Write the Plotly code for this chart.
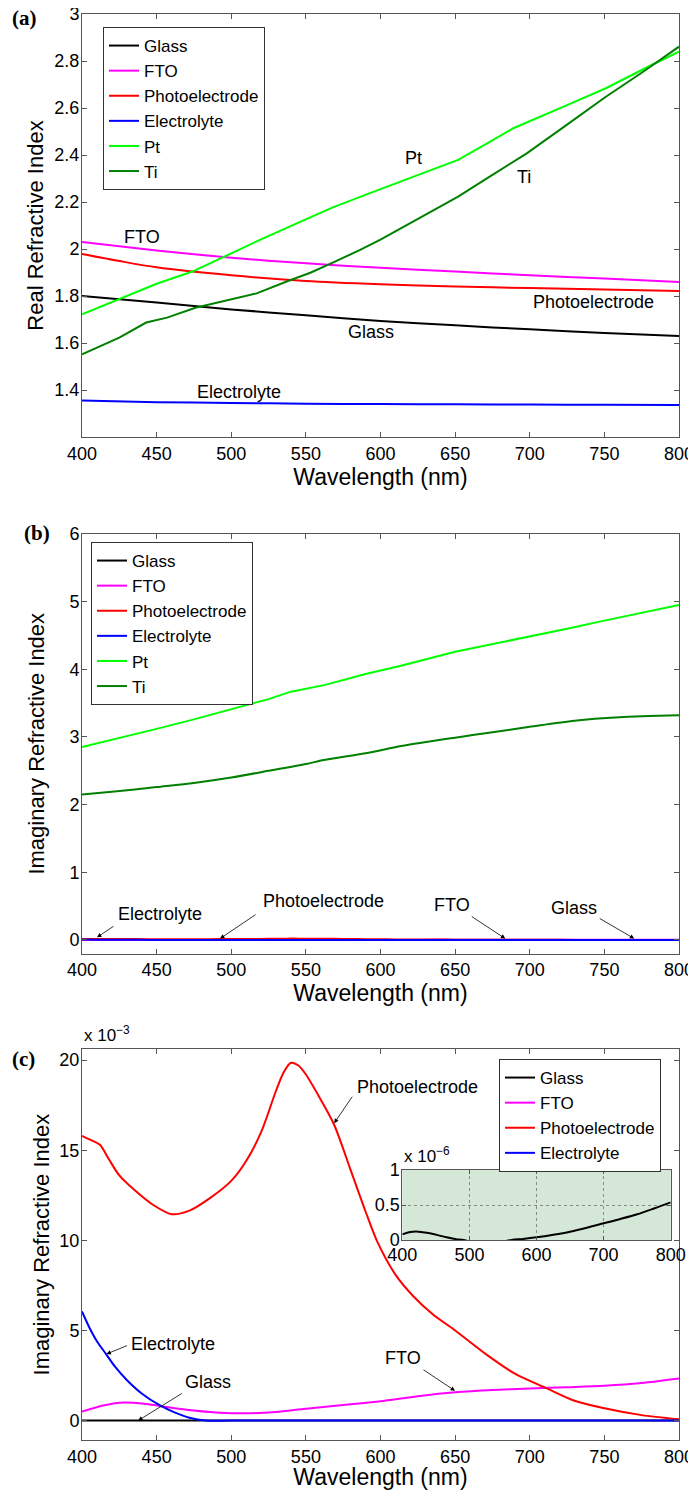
import plotly.graph_objects as go

# ---------------- data ----------------
# (a) real refractive index n(λ)
wl_glass_n = [400, 450, 500, 550, 600, 650, 700, 750, 800]
n_glass = [1.800, 1.772, 1.743, 1.718, 1.694, 1.675, 1.658, 1.643, 1.630]
wl_fto_n = [400, 450, 500, 550, 600, 650, 700, 750, 800]
n_fto = [2.030, 1.994, 1.963, 1.939, 1.920, 1.904, 1.888, 1.874, 1.860]
wl_pe_n = [400, 425, 450, 500, 550, 600, 650, 700, 750, 800]
n_pe = [1.979, 1.949, 1.922, 1.888, 1.864, 1.850, 1.840, 1.834, 1.828, 1.821]
wl_el_n = [400, 450, 500, 550, 600, 650, 700, 750, 800]
n_el = [1.355, 1.348, 1.345, 1.342, 1.340, 1.339, 1.338, 1.337, 1.336]
wl_pt_n = [400, 419, 440, 450, 474, 495, 520, 545, 568, 600, 625, 652, 670, 689, 725, 751, 782, 800]
n_pt = [1.722, 1.772, 1.828, 1.852, 1.904, 1.967, 2.041, 2.112, 2.177, 2.255, 2.314, 2.379,
        2.444, 2.514, 2.612, 2.684, 2.784, 2.840]
wl_ti_n = [400, 425, 443, 457, 476, 500, 517, 538, 553, 568, 586, 600, 625, 652, 675, 698, 725, 751, 775, 800]
n_ti = [1.552, 1.623, 1.687, 1.708, 1.750, 1.786, 1.811, 1.864, 1.899, 1.942, 1.995, 2.040,
        2.128, 2.223, 2.315, 2.407, 2.529, 2.648, 2.750, 2.861]

# (b)/(c) imaginary refractive index k(λ)
wl_pt_k = [400, 425, 450, 475, 500, 525, 540, 563, 590, 613, 650, 675, 700, 725, 750, 775, 800]
k_pt = [2.85, 2.98, 3.12, 3.26, 3.41, 3.56, 3.67, 3.77, 3.93, 4.05, 4.26, 4.37, 4.48, 4.60, 4.72, 4.83, 4.95]
wl_ti_k = [400, 420, 450, 475, 500, 525, 550, 562, 590, 615, 650, 675, 700, 730, 760, 800]
k_ti = [2.15, 2.19, 2.26, 2.32, 2.40, 2.50, 2.60, 2.66, 2.76, 2.87, 2.99, 3.07, 3.15, 3.24, 3.29, 3.32]

wl_glass_k = [400, 410, 421, 430, 441, 453, 466, 480, 491, 505, 527, 545, 563, 580, 600, 625,
              650, 675, 700, 725, 750, 775, 800]
k_glass = [0.08e-6, 0.11e-6, 0.12e-6, 0.11e-6, 0.095e-6, 0.07e-6, 0.038e-6, 0.012e-6, 0.0,
           -0.03e-6, -0.045e-6, -0.03e-6, 0.0, 0.015e-6, 0.038e-6, 0.075e-6, 0.119e-6,
           0.175e-6, 0.238e-6, 0.300e-6, 0.367e-6, 0.450e-6, 0.538e-6]
wl_fto_k = [400, 415, 428, 440, 452, 470, 490, 510, 530, 550, 580, 600, 625, 650, 675, 700, 725, 750, 775, 800]
k_fto = [0.50e-3, 0.85e-3, 1.00e-3, 0.95e-3, 0.81e-3, 0.60e-3, 0.45e-3, 0.40e-3, 0.48e-3, 0.66e-3,
         0.90e-3, 1.07e-3, 1.35e-3, 1.57e-3, 1.70e-3, 1.78e-3, 1.85e-3, 1.93e-3, 2.08e-3, 2.33e-3]
wl_pe_k = [400, 405, 412, 418, 425, 435, 447, 460, 472, 485, 500, 510, 520, 530, 535, 540, 545, 550,
           560, 569, 580, 590, 598, 610, 622, 635, 650, 672, 690, 711, 730, 750, 775, 800]
k_pe = [15.8e-3, 15.6e-3, 15.3e-3, 14.5e-3, 13.6e-3, 12.8e-3, 12.0e-3, 11.45e-3, 11.65e-3, 12.3e-3,
        13.3e-3, 14.4e-3, 16.0e-3, 18.3e-3, 19.3e-3, 19.85e-3, 19.7e-3, 19.2e-3, 17.8e-3, 16.4e-3,
        13.9e-3, 11.6e-3, 9.9e-3, 8.1e-3, 6.9e-3, 5.9e-3, 5.0e-3, 3.6e-3, 2.6e-3, 1.8e-3, 1.1e-3,
        0.68e-3, 0.30e-3, 0.07e-3]
wl_el_k = [400, 405, 410, 416, 422, 430, 440, 452, 462, 472, 483, 500, 600, 700, 800]
k_el = [6.05e-3, 5.15e-3, 4.4e-3, 3.7e-3, 3.0e-3, 2.25e-3, 1.5e-3, 0.85e-3, 0.45e-3, 0.15e-3,
        0.0, 0.0, 0.0, 0.0, 0.0]

wl_ticks = [400, 450, 500, 550, 600, 650, 700, 750, 800]
inset_ticks = [400, 500, 600, 700, 800]

COLORS = {"Glass": "#000000", "FTO": "#ff00ff", "Photoelectrode": "#ff0000",
          "Electrolyte": "#0000ff", "Pt": "#00ff00", "Ti": "#008000"}

# ---------------- layout helpers ----------------
OFF = 8                      # page (body) margin of the HTML document
W, H = 696 - OFF, 1490 - OFF
FONT = "Liberation Sans, Arial, Helvetica, sans-serif"
SERIF = "Liberation Serif, Times New Roman, serif"
AX = "#555555"


def fx(p):
    return (p - OFF) / W


def fy(p):
    return 1 - (p - OFF) / H


fig = go.Figure()


def add(wl, vals, name, xa, ya, legend, show=True, shape="spline"):
    fig.add_trace(go.Scatter(
        x=wl, y=vals, name=name, mode="lines", xaxis=xa, yaxis=ya,
        line=dict(color=COLORS[name], width=2, shape=shape, smoothing=0.8),
        legend=legend, showlegend=show))


# (a)
add(wl_glass_n, n_glass, "Glass", "x", "y", "legend")
add(wl_fto_n, n_fto, "FTO", "x", "y", "legend")
add(wl_pe_n, n_pe, "Photoelectrode", "x", "y", "legend")
add(wl_el_n, n_el, "Electrolyte", "x", "y", "legend")
add(wl_pt_n, n_pt, "Pt", "x", "y", "legend", shape="linear")
add(wl_ti_n, n_ti, "Ti", "x", "y", "legend", shape="linear")
# (b)
add(wl_glass_k, k_glass, "Glass", "x2", "y2", "legend2")
add(wl_fto_k, k_fto, "FTO", "x2", "y2", "legend2")
add(wl_pe_k, k_pe, "Photoelectrode", "x2", "y2", "legend2")
add(wl_el_k, k_el, "Electrolyte", "x2", "y2", "legend2")
add(wl_pt_k, k_pt, "Pt", "x2", "y2", "legend2", shape="linear")
add(wl_ti_k, k_ti, "Ti", "x2", "y2", "legend2")
# (c)
add(wl_glass_k, k_glass, "Glass", "x3", "y3", "legend3")
add(wl_fto_k, k_fto, "FTO", "x3", "y3", "legend3")
add(wl_pe_k, k_pe, "Photoelectrode", "x3", "y3", "legend3")
add(wl_el_k, k_el, "Electrolyte", "x3", "y3", "legend3")
# inset
add(wl_glass_k, k_glass, "Glass", "x4", "y4", "legend3", show=False)

tickfont = dict(family=FONT, size=18, color="black")
common_x = dict(range=[400, 800], tickvals=wl_ticks, ticks="inside", ticklen=5, tickcolor=AX,
                showline=True, linecolor=AX, linewidth=1, mirror="ticks", showgrid=False,
                zeroline=False, tickfont=tickfont, automargin=False, ticklabeloverflow="allow",
                title=dict(text="Wavelength (nm)", font=dict(family=FONT, size=23, color="black"),
                           standoff=0))
common_y = dict(ticks="inside", ticklen=5, tickcolor=AX, showline=True, linecolor=AX, linewidth=1,
                mirror="ticks", showgrid=False, zeroline=False, tickfont=tickfont, automargin=False,
                ticklabelstandoff=-2, ticklabeloverflow="allow")

xd = [fx(82), fx(679)]
fig.update_layout(
    width=W, height=H, margin=dict(l=0, r=0, t=0, b=0, autoexpand=False),
    paper_bgcolor="white", plot_bgcolor="rgba(0,0,0,0)",
    xaxis=dict(domain=xd, anchor="y", **common_x),
    yaxis=dict(domain=[fy(437), fy(14)], anchor="x", range=[1.2, 3],
               tickvals=[1.4, 1.6, 1.8, 2.0, 2.2, 2.4, 2.6, 2.8, 3.0],
               ticktext=["1.4", "1.6", "1.8", "2", "2.2", "2.4", "2.6", "2.8", "3"],
               title=dict(text="Real Refractive Index", font=dict(family=FONT, size=22, color="black"),
                          standoff=4), **common_y),
    xaxis2=dict(domain=xd, anchor="y2", **common_x),
    yaxis2=dict(domain=[fy(953.5), fy(534)], anchor="x2", range=[-0.2, 6],
                tickvals=[0, 1, 2, 3, 4, 5, 6],
                title=dict(text="Imaginary Refractive Index", font=dict(family=FONT, size=22, color="black"),
                           standoff=18), **common_y),
    xaxis3=dict(domain=xd, anchor="y3", **common_x),
    yaxis3=dict(domain=[fy(1440), fy(1049.3)], anchor="x3", range=[-0.00108, 0.0206],
                tickvals=[0, 0.005, 0.01, 0.015, 0.02], ticktext=["0", "5", "10", "15", "20"],
                title=dict(text="Imaginary Refractive Index", font=dict(family=FONT, size=22, color="black"),
                           standoff=3), **common_y),
    xaxis4=dict(domain=[fx(402.3), fx(670.7)], anchor="y4", range=[400, 800], tickvals=inset_ticks,
                ticks="inside", ticklen=4, tickcolor=AX, showline=True, linecolor=AX, mirror="ticks",
                showgrid=True, gridcolor="#888888", griddash="dot", gridwidth=1, zeroline=False,
                tickfont=tickfont, automargin=False, ticklabelstandoff=-2, ticklabeloverflow="allow"),
    yaxis4=dict(domain=[fy(1240), fy(1170)], anchor="x4", range=[0, 1e-6],
                tickvals=[0, 0.5e-6, 1e-6], ticktext=["0", "0.5", "1"],
                ticks="inside", ticklen=4, tickcolor=AX, showline=True, linecolor=AX, mirror="ticks",
                showgrid=True, gridcolor="#888888", griddash="dot", gridwidth=1, zeroline=False,
                tickfont=tickfont, automargin=False, ticklabelstandoff=-2, ticklabeloverflow="allow"),
)

legfont = dict(family=FONT, size=17, color="black")
legstyle = dict(font=legfont, bgcolor="white", bordercolor="#333333", borderwidth=1,
                xanchor="left", yanchor="top", tracegroupgap=0, itemwidth=30)
fig.update_layout(
    legend=dict(x=fx(103), y=fy(27), **legstyle),
    legend2=dict(x=fx(91), y=fy(542), **legstyle),
    legend3=dict(x=fx(499), y=fy(1059), **legstyle),
)

# inset background
fig.add_shape(type="rect", xref="x4 domain", yref="y4 domain", x0=0, x1=1, y0=0, y1=1,
              fillcolor="#d5e7d7", line=dict(width=0), layer="below")

ann = []
tf = dict(family=FONT, size=18, color="black")


def label(x, y, t, xr, yr):
    ann.append(dict(x=x, y=y, xref=xr, yref=yr, text=t, showarrow=False, font=tf,
                    xanchor="center", yanchor="middle"))


def arrow(x, y, ax, ay, xr, yr):
    ann.append(dict(x=x, y=y, xref=xr, yref=yr, ax=ax, ay=ay, text="", showarrow=True,
                    arrowhead=2, arrowsize=1.1, arrowwidth=0.8, arrowcolor="black"))


# (a) labels
label(440.5, 2.051, "FTO", "x", "y")
label(621.8, 2.387, "Pt", "x", "y")
label(696.1, 2.306, "Ti", "x", "y")
label(743.0, 1.776, "Photoelectrode", "x", "y")
label(593.6, 1.648, "Glass", "x", "y")
label(505.2, 1.393, "Electrolyte", "x", "y")
# (b) labels + arrows
label(452.3, 0.384, "Electrolyte", "x2", "y2")
label(561.5, 0.573, "Photoelectrode", "x2", "y2")
label(647.9, 0.514, "FTO", "x2", "y2")
label(729.6, 0.473, "Glass", "x2", "y2")
arrow(410.1, 0.04, 18, -12, "x2", "y2")
arrow(492.5, 0.02, 37, -25, "x2", "y2")
arrow(683.6, 0.02, -35, -23, "x2", "y2")
arrow(770.0, 0.02, -36, -21, "x2", "y2")
# (c) labels + arrows
label(624.5, 0.01853, "Photoelectrode", "x3", "y3")
label(461.3, 0.00425, "Electrolyte", "x3", "y3")
label(484.4, 0.00212, "Glass", "x3", "y3")
label(615.1, 0.00346, "FTO", "x3", "y3")
arrow(569.0, 0.0165, 19, -28, "x3", "y3")
arrow(416.4, 0.00369, 22, -9, "x3", "y3")
arrow(437.7, 0.0, 45, -28, "x3", "y3")
arrow(649.9, 0.00165, -33, -22, "x3", "y3")

# panel letters
for t, px, py in [("(a)", 24.5, 18), ("(b)", 37, 533), ("(c)", 23.5, 1059)]:
    ann.append(dict(x=fx(px), y=fy(py), xref="paper", yref="paper", text="<b>%s</b>" % t,
                    showarrow=False, xanchor="center", yanchor="middle",
                    font=dict(family=SERIF, size=21, color="black")))
# exponent labels
ann.append(dict(x=fx(82), y=fy(1047), xref="paper", yref="paper", text="x 10<sup>\u22123</sup>",
                showarrow=False, xanchor="left", yanchor="bottom", font=dict(family=FONT, size=17, color="black")))
ann.append(dict(x=fx(402), y=fy(1168), xref="paper", yref="paper", text="x 10<sup>\u22126</sup>",
                showarrow=False, xanchor="left", yanchor="bottom", font=dict(family=FONT, size=17, color="black")))

fig.update_layout(annotations=ann)
fig.write_html("out.html")
